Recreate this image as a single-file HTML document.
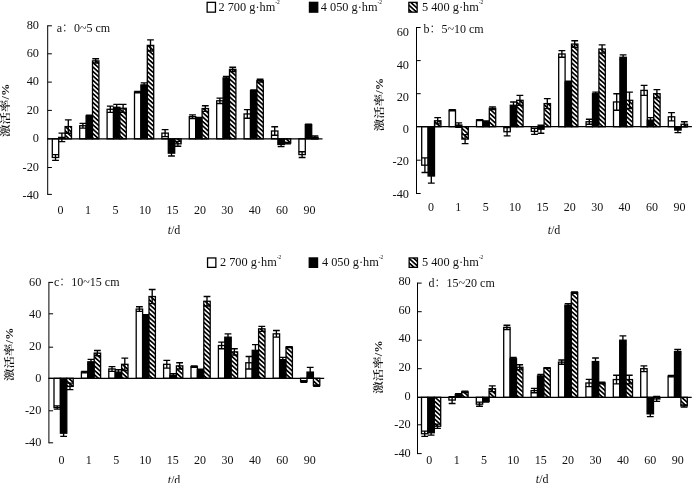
<!DOCTYPE html><html><head><meta charset="utf-8"><title>chart</title><style>html,body{margin:0;padding:0;background:#fff}svg{display:block}</style></head><body><svg width="700" height="483" viewBox="0 0 700 483" font-family="'Liberation Serif', 'Noto Serif CJK SC', serif" font-size="12" fill="#111">
<defs><pattern id="h" width="3.3" height="3.3" patternUnits="userSpaceOnUse" patternTransform="rotate(42)"><rect width="3.3" height="3.3" fill="#fff"/><rect width="3.3" height="1.7" fill="#000"/></pattern></defs>
<rect width="700" height="483" fill="#fff"/>
<rect x="207.15" y="2.35" width="8.30" height="9.80" fill="#fff" stroke="#000" stroke-width="1.3"/>
<text x="218.5" y="10.70" font-size="12.3">2 700 g·hm<tspan font-size="5.5" dy="-6.5">-2</tspan></text>
<rect x="309.45" y="2.35" width="8.30" height="9.80" fill="#000" stroke="#000" stroke-width="1.3"/>
<text x="320.8" y="10.70" font-size="12.3">4 050 g·hm<tspan font-size="5.5" dy="-6.5">-2</tspan></text>
<rect x="408.85" y="2.35" width="8.30" height="9.80" fill="url(#h)" stroke="#000" stroke-width="1.3"/>
<text x="422.0" y="10.70" font-size="12.3">5 400 g·hm<tspan font-size="5.5" dy="-6.5">-2</tspan></text>
<rect x="207.55" y="257.95" width="8.30" height="9.40" fill="#fff" stroke="#000" stroke-width="1.3"/>
<text x="220" y="265.80" font-size="12.3">2 700 g·hm<tspan font-size="5.5" dy="-6.5">-2</tspan></text>
<rect x="309.25" y="257.95" width="8.30" height="9.40" fill="#000" stroke="#000" stroke-width="1.3"/>
<text x="322" y="265.80" font-size="12.3">4 050 g·hm<tspan font-size="5.5" dy="-6.5">-2</tspan></text>
<rect x="409.15" y="257.95" width="8.30" height="9.40" fill="url(#h)" stroke="#000" stroke-width="1.3"/>
<text x="422" y="265.80" font-size="12.3">5 400 g·hm<tspan font-size="5.5" dy="-6.5">-2</tspan></text>
<rect x="52.30" y="138.80" width="6.40" height="18.66" fill="#fff" stroke="#000" stroke-width="1.3"/>
<path d="M55.50 154.59V160.32M52.10 154.59H58.90M52.10 160.32H58.90" stroke="#000" stroke-width="1.35" fill="none"/>
<rect x="58.70" y="137.38" width="6.40" height="1.42" fill="#000" stroke="#000" stroke-width="1.3"/>
<path d="M61.90 133.12V141.67M58.50 133.12H65.30M58.50 141.67H65.30" stroke="#000" stroke-width="1.35" fill="none"/>
<rect x="65.10" y="126.59" width="6.40" height="12.21" fill="url(#h)" stroke="#000" stroke-width="1.3"/>
<path d="M68.30 119.91V133.26M64.90 119.91H71.70M64.90 133.26H71.70" stroke="#000" stroke-width="1.35" fill="none"/>
<rect x="79.70" y="125.74" width="6.40" height="13.06" fill="#fff" stroke="#000" stroke-width="1.3"/>
<path d="M82.90 123.32V128.15M79.50 123.32H86.30M79.50 128.15H86.30" stroke="#000" stroke-width="1.35" fill="none"/>
<rect x="86.10" y="115.94" width="6.40" height="22.86" fill="#000" stroke="#000" stroke-width="1.3"/>
<path d="M89.30 115.23V116.65M85.90 115.23H92.70M85.90 116.65H92.70" stroke="#000" stroke-width="1.35" fill="none"/>
<rect x="92.50" y="60.88" width="6.40" height="77.93" fill="url(#h)" stroke="#000" stroke-width="1.3"/>
<path d="M95.70 58.75V63.00M92.30 58.75H99.10M92.30 63.00H99.10" stroke="#000" stroke-width="1.35" fill="none"/>
<rect x="107.10" y="109.27" width="6.40" height="29.53" fill="#fff" stroke="#000" stroke-width="1.3"/>
<path d="M110.30 106.16V112.39M106.90 106.16H113.70M106.90 112.39H113.70" stroke="#000" stroke-width="1.35" fill="none"/>
<rect x="113.50" y="107.29" width="6.40" height="31.51" fill="#000" stroke="#000" stroke-width="1.3"/>
<path d="M116.70 104.32V110.26M113.30 104.32H120.10M113.30 110.26H120.10" stroke="#000" stroke-width="1.35" fill="none"/>
<rect x="119.90" y="108.28" width="6.40" height="30.52" fill="url(#h)" stroke="#000" stroke-width="1.3"/>
<path d="M123.10 104.32V112.25M119.70 104.32H126.50M119.70 112.25H126.50" stroke="#000" stroke-width="1.35" fill="none"/>
<rect x="134.50" y="92.00" width="6.40" height="46.80" fill="#fff" stroke="#000" stroke-width="1.3"/>
<path d="M137.70 91.30V92.71M134.30 91.30H141.10M134.30 92.71H141.10" stroke="#000" stroke-width="1.35" fill="none"/>
<rect x="140.90" y="84.93" width="6.40" height="53.87" fill="#000" stroke="#000" stroke-width="1.3"/>
<path d="M144.10 82.81V87.05M140.70 82.81H147.50M140.70 87.05H147.50" stroke="#000" stroke-width="1.35" fill="none"/>
<rect x="147.30" y="45.40" width="6.40" height="93.40" fill="url(#h)" stroke="#000" stroke-width="1.3"/>
<path d="M150.50 39.80V51.00M147.10 39.80H153.90M147.10 51.00H153.90" stroke="#000" stroke-width="1.35" fill="none"/>
<rect x="161.90" y="133.12" width="6.40" height="5.68" fill="#fff" stroke="#000" stroke-width="1.3"/>
<path d="M165.10 129.57V136.67M161.70 129.57H168.50M161.70 136.67H168.50" stroke="#000" stroke-width="1.35" fill="none"/>
<rect x="168.30" y="138.80" width="6.40" height="14.35" fill="#000" stroke="#000" stroke-width="1.3"/>
<path d="M171.50 150.28V156.02M168.10 150.28H174.90M168.10 156.02H174.90" stroke="#000" stroke-width="1.35" fill="none"/>
<rect x="174.70" y="138.80" width="6.40" height="5.02" fill="url(#h)" stroke="#000" stroke-width="1.3"/>
<path d="M177.90 141.38V146.26M174.50 141.38H181.30M174.50 146.26H181.30" stroke="#000" stroke-width="1.35" fill="none"/>
<rect x="189.30" y="116.65" width="6.40" height="22.15" fill="#fff" stroke="#000" stroke-width="1.3"/>
<path d="M192.50 114.80V118.49M189.10 114.80H195.90M189.10 118.49H195.90" stroke="#000" stroke-width="1.35" fill="none"/>
<rect x="195.70" y="118.07" width="6.40" height="20.73" fill="#000" stroke="#000" stroke-width="1.3"/>
<path d="M198.90 117.36V118.78M195.50 117.36H202.30M195.50 118.78H202.30" stroke="#000" stroke-width="1.35" fill="none"/>
<rect x="202.10" y="108.56" width="6.40" height="30.24" fill="url(#h)" stroke="#000" stroke-width="1.3"/>
<path d="M205.30 105.73V111.39M201.90 105.73H208.70M201.90 111.39H208.70" stroke="#000" stroke-width="1.35" fill="none"/>
<rect x="216.70" y="100.78" width="6.40" height="38.02" fill="#fff" stroke="#000" stroke-width="1.3"/>
<path d="M219.90 98.09V103.47M216.50 98.09H223.30M216.50 103.47H223.30" stroke="#000" stroke-width="1.35" fill="none"/>
<rect x="223.10" y="77.85" width="6.40" height="60.95" fill="#000" stroke="#000" stroke-width="1.3"/>
<path d="M226.30 76.44V79.27M222.90 76.44H229.70M222.90 79.27H229.70" stroke="#000" stroke-width="1.35" fill="none"/>
<rect x="229.50" y="69.36" width="6.40" height="69.44" fill="url(#h)" stroke="#000" stroke-width="1.3"/>
<path d="M232.70 67.24V71.49M229.30 67.24H236.10M229.30 71.49H236.10" stroke="#000" stroke-width="1.35" fill="none"/>
<rect x="244.10" y="113.95" width="6.40" height="24.85" fill="#fff" stroke="#000" stroke-width="1.3"/>
<path d="M247.30 109.69V118.21M243.90 109.69H250.70M243.90 118.21H250.70" stroke="#000" stroke-width="1.35" fill="none"/>
<rect x="250.50" y="90.59" width="6.40" height="48.21" fill="#000" stroke="#000" stroke-width="1.3"/>
<path d="M253.70 89.88V91.30M250.30 89.88H257.10M250.30 91.30H257.10" stroke="#000" stroke-width="1.35" fill="none"/>
<rect x="256.90" y="80.68" width="6.40" height="58.12" fill="url(#h)" stroke="#000" stroke-width="1.3"/>
<path d="M260.10 79.27V82.10M256.70 79.27H263.50M256.70 82.10H263.50" stroke="#000" stroke-width="1.35" fill="none"/>
<rect x="271.50" y="130.99" width="6.40" height="7.81" fill="#fff" stroke="#000" stroke-width="1.3"/>
<path d="M274.70 126.73V135.25M271.30 126.73H278.10M271.30 135.25H278.10" stroke="#000" stroke-width="1.35" fill="none"/>
<rect x="277.90" y="138.80" width="6.40" height="5.74" fill="#000" stroke="#000" stroke-width="1.3"/>
<path d="M281.10 142.39V146.69M277.70 142.39H284.50M277.70 146.69H284.50" stroke="#000" stroke-width="1.35" fill="none"/>
<rect x="284.30" y="138.80" width="6.40" height="4.31" fill="url(#h)" stroke="#000" stroke-width="1.3"/>
<path d="M287.50 142.39V143.82M284.10 142.39H290.90M284.10 143.82H290.90" stroke="#000" stroke-width="1.35" fill="none"/>
<rect x="298.90" y="138.80" width="6.40" height="15.78" fill="#fff" stroke="#000" stroke-width="1.3"/>
<path d="M302.10 151.72V157.46M298.70 151.72H305.50M298.70 157.46H305.50" stroke="#000" stroke-width="1.35" fill="none"/>
<rect x="305.30" y="124.60" width="6.40" height="14.20" fill="#000" stroke="#000" stroke-width="1.3"/>
<path d="M308.50 124.17V125.03M305.10 124.17H311.90M305.10 125.03H311.90" stroke="#000" stroke-width="1.35" fill="none"/>
<rect x="311.70" y="137.38" width="6.40" height="1.42" fill="url(#h)" stroke="#000" stroke-width="1.3"/>
<path d="M314.90 135.96V138.80M311.50 135.96H318.30M311.50 138.80H318.30" stroke="#000" stroke-width="1.35" fill="none"/>
<path d="M47.7 25.3V194.9" stroke="#000" stroke-width="1" fill="none"/>
<path d="M47.2 138.80H322.5" stroke="#000" stroke-width="1.3" fill="none"/>
<path d="M47.7 25.80h4.2" stroke="#000" stroke-width="1"/>
<text x="39" y="28.50" text-anchor="end" font-size="12.3">80</text>
<path d="M47.7 53.80h4.2" stroke="#000" stroke-width="1"/>
<text x="39" y="56.90" text-anchor="end" font-size="12.3">60</text>
<path d="M47.7 82.10h4.2" stroke="#000" stroke-width="1"/>
<text x="39" y="85.30" text-anchor="end" font-size="12.3">40</text>
<path d="M47.7 110.40h4.2" stroke="#000" stroke-width="1"/>
<text x="39" y="113.70" text-anchor="end" font-size="12.3">20</text>
<path d="M47.7 138.80h4.2" stroke="#000" stroke-width="1"/>
<text x="39" y="142.10" text-anchor="end" font-size="12.3">0</text>
<path d="M47.7 167.50h4.2" stroke="#000" stroke-width="1"/>
<text x="39" y="170.50" text-anchor="end" font-size="12.3">-20</text>
<path d="M47.7 194.40h4.2" stroke="#000" stroke-width="1"/>
<text x="39" y="198.90" text-anchor="end" font-size="12.3">-40</text>
<text x="60.60" y="213.7" text-anchor="middle" font-size="12">0</text>
<text x="88.00" y="213.7" text-anchor="middle" font-size="12">1</text>
<text x="115.40" y="213.7" text-anchor="middle" font-size="12">5</text>
<text x="145.10" y="213.7" text-anchor="middle" font-size="12">10</text>
<text x="172.50" y="213.7" text-anchor="middle" font-size="12">15</text>
<text x="199.90" y="213.7" text-anchor="middle" font-size="12">20</text>
<text x="227.30" y="213.7" text-anchor="middle" font-size="12">30</text>
<text x="254.70" y="213.7" text-anchor="middle" font-size="12">40</text>
<text x="282.10" y="213.7" text-anchor="middle" font-size="12">60</text>
<text x="309.50" y="213.7" text-anchor="middle" font-size="12">90</text>
<text x="174" y="234" text-anchor="middle" font-size="12"><tspan font-style="italic">t</tspan>/d</text>
<text x="56.7" y="31.5" font-size="12">a：0~5 cm</text>
<text transform="translate(8.9,110.2) rotate(-90) scale(1,0.8)" text-anchor="middle" font-size="12.5" font-weight="600">激活率/%</text>
<rect x="421.70" y="126.70" width="6.40" height="38.49" fill="#fff" stroke="#000" stroke-width="1.3"/>
<path d="M424.90 157.85V172.52M421.50 157.85H428.30M421.50 172.52H428.30" stroke="#000" stroke-width="1.35" fill="none"/>
<rect x="428.10" y="126.70" width="6.40" height="49.32" fill="#000" stroke="#000" stroke-width="1.3"/>
<path d="M431.30 168.86V183.18M427.90 168.86H434.70M427.90 183.18H434.70" stroke="#000" stroke-width="1.35" fill="none"/>
<rect x="434.50" y="120.76" width="6.40" height="5.94" fill="url(#h)" stroke="#000" stroke-width="1.3"/>
<path d="M437.70 117.62V123.89M434.30 117.62H441.10M434.30 123.89H441.10" stroke="#000" stroke-width="1.35" fill="none"/>
<rect x="449.10" y="110.20" width="6.40" height="16.50" fill="#fff" stroke="#000" stroke-width="1.3"/>
<path d="M452.30 109.70V110.70M448.90 109.70H455.70M448.90 110.70H455.70" stroke="#000" stroke-width="1.35" fill="none"/>
<rect x="455.50" y="125.05" width="6.40" height="1.65" fill="#000" stroke="#000" stroke-width="1.3"/>
<path d="M458.70 122.91V127.20M455.30 122.91H462.10M455.30 127.20H462.10" stroke="#000" stroke-width="1.35" fill="none"/>
<rect x="461.90" y="126.70" width="6.40" height="12.39" fill="url(#h)" stroke="#000" stroke-width="1.3"/>
<path d="M465.10 134.57V143.62M461.70 134.57H468.50M461.70 143.62H468.50" stroke="#000" stroke-width="1.35" fill="none"/>
<rect x="476.50" y="120.10" width="6.40" height="6.60" fill="#fff" stroke="#000" stroke-width="1.3"/>
<path d="M479.70 119.61V120.59M476.30 119.61H483.10M476.30 120.59H483.10" stroke="#000" stroke-width="1.35" fill="none"/>
<rect x="482.90" y="121.75" width="6.40" height="4.95" fill="#000" stroke="#000" stroke-width="1.3"/>
<path d="M486.10 120.92V122.58M482.70 120.92H489.50M482.70 122.58H489.50" stroke="#000" stroke-width="1.35" fill="none"/>
<rect x="489.30" y="108.22" width="6.40" height="18.48" fill="url(#h)" stroke="#000" stroke-width="1.3"/>
<path d="M492.50 106.90V109.54M489.10 106.90H495.90M489.10 109.54H495.90" stroke="#000" stroke-width="1.35" fill="none"/>
<rect x="503.90" y="126.70" width="6.40" height="5.02" fill="#fff" stroke="#000" stroke-width="1.3"/>
<path d="M507.10 127.54V135.91M503.70 127.54H510.50M503.70 135.91H510.50" stroke="#000" stroke-width="1.35" fill="none"/>
<rect x="510.30" y="105.25" width="6.40" height="21.45" fill="#000" stroke="#000" stroke-width="1.3"/>
<path d="M513.50 101.95V108.55M510.10 101.95H516.90M510.10 108.55H516.90" stroke="#000" stroke-width="1.35" fill="none"/>
<rect x="516.70" y="100.30" width="6.40" height="26.40" fill="url(#h)" stroke="#000" stroke-width="1.3"/>
<path d="M519.90 95.35V105.25M516.50 95.35H523.30M516.50 105.25H523.30" stroke="#000" stroke-width="1.35" fill="none"/>
<rect x="531.30" y="126.70" width="6.40" height="4.69" fill="#fff" stroke="#000" stroke-width="1.3"/>
<path d="M534.50 128.38V134.41M531.10 128.38H537.90M531.10 134.41H537.90" stroke="#000" stroke-width="1.35" fill="none"/>
<rect x="537.70" y="126.70" width="6.40" height="2.51" fill="#000" stroke="#000" stroke-width="1.3"/>
<path d="M540.90 125.22V133.23M537.50 125.22H544.30M537.50 133.23H544.30" stroke="#000" stroke-width="1.35" fill="none"/>
<rect x="544.10" y="103.60" width="6.40" height="23.10" fill="url(#h)" stroke="#000" stroke-width="1.3"/>
<path d="M547.30 98.65V108.55M543.90 98.65H550.70M543.90 108.55H550.70" stroke="#000" stroke-width="1.35" fill="none"/>
<rect x="558.70" y="53.98" width="6.40" height="72.72" fill="#fff" stroke="#000" stroke-width="1.3"/>
<path d="M561.90 50.67V57.29M558.50 50.67H565.30M558.50 57.29H565.30" stroke="#000" stroke-width="1.35" fill="none"/>
<rect x="565.10" y="82.12" width="6.40" height="44.58" fill="#000" stroke="#000" stroke-width="1.3"/>
<path d="M568.30 81.29V82.94M564.90 81.29H571.70M564.90 82.94H571.70" stroke="#000" stroke-width="1.35" fill="none"/>
<rect x="571.50" y="44.05" width="6.40" height="82.65" fill="url(#h)" stroke="#000" stroke-width="1.3"/>
<path d="M574.70 40.74V47.36M571.30 40.74H578.10M571.30 47.36H578.10" stroke="#000" stroke-width="1.35" fill="none"/>
<rect x="586.10" y="121.75" width="6.40" height="4.95" fill="#fff" stroke="#000" stroke-width="1.3"/>
<path d="M589.30 119.28V124.23M585.90 119.28H592.70M585.90 124.23H592.70" stroke="#000" stroke-width="1.35" fill="none"/>
<rect x="592.50" y="93.70" width="6.40" height="33.00" fill="#000" stroke="#000" stroke-width="1.3"/>
<path d="M595.70 92.05V95.35M592.30 92.05H599.10M592.30 95.35H599.10" stroke="#000" stroke-width="1.35" fill="none"/>
<rect x="598.90" y="49.02" width="6.40" height="77.69" fill="url(#h)" stroke="#000" stroke-width="1.3"/>
<path d="M602.10 44.88V53.15M598.70 44.88H605.50M598.70 53.15H605.50" stroke="#000" stroke-width="1.35" fill="none"/>
<rect x="613.50" y="101.95" width="6.40" height="24.75" fill="#fff" stroke="#000" stroke-width="1.3"/>
<path d="M616.70 93.70V110.20M613.30 93.70H620.10M613.30 110.20H620.10" stroke="#000" stroke-width="1.35" fill="none"/>
<rect x="619.90" y="57.29" width="6.40" height="69.41" fill="#000" stroke="#000" stroke-width="1.3"/>
<path d="M623.10 54.81V59.77M619.70 54.81H626.50M619.70 59.77H626.50" stroke="#000" stroke-width="1.35" fill="none"/>
<rect x="626.30" y="100.30" width="6.40" height="26.40" fill="url(#h)" stroke="#000" stroke-width="1.3"/>
<path d="M629.50 92.05V108.55M626.10 92.05H632.90M626.10 108.55H632.90" stroke="#000" stroke-width="1.35" fill="none"/>
<rect x="640.90" y="90.39" width="6.40" height="36.31" fill="#fff" stroke="#000" stroke-width="1.3"/>
<path d="M644.10 85.42V95.35M640.70 85.42H647.50M640.70 95.35H647.50" stroke="#000" stroke-width="1.35" fill="none"/>
<rect x="647.30" y="120.10" width="6.40" height="6.60" fill="#000" stroke="#000" stroke-width="1.3"/>
<path d="M650.50 117.62V122.58M647.10 117.62H653.90M647.10 122.58H653.90" stroke="#000" stroke-width="1.35" fill="none"/>
<rect x="653.70" y="93.70" width="6.40" height="33.00" fill="url(#h)" stroke="#000" stroke-width="1.3"/>
<path d="M656.90 89.56V97.83M653.50 89.56H660.30M653.50 97.83H660.30" stroke="#000" stroke-width="1.35" fill="none"/>
<rect x="668.30" y="116.80" width="6.40" height="9.90" fill="#fff" stroke="#000" stroke-width="1.3"/>
<path d="M671.50 112.67V120.92M668.10 112.67H674.90M668.10 120.92H674.90" stroke="#000" stroke-width="1.35" fill="none"/>
<rect x="674.70" y="126.70" width="6.40" height="3.35" fill="#000" stroke="#000" stroke-width="1.3"/>
<path d="M677.90 127.54V132.56M674.50 127.54H681.30M674.50 132.56H681.30" stroke="#000" stroke-width="1.35" fill="none"/>
<rect x="681.10" y="124.23" width="6.40" height="2.47" fill="url(#h)" stroke="#000" stroke-width="1.3"/>
<path d="M684.30 121.75V126.70M680.90 121.75H687.70M680.90 126.70H687.70" stroke="#000" stroke-width="1.35" fill="none"/>
<path d="M416.5 27.0V194.0" stroke="#000" stroke-width="1" fill="none"/>
<path d="M416.0 126.70H691.9" stroke="#000" stroke-width="1.3" fill="none"/>
<path d="M416.5 27.50h4.2" stroke="#000" stroke-width="1"/>
<text x="409.0" y="36.20" text-anchor="end" font-size="12.3">60</text>
<path d="M416.5 60.60h4.2" stroke="#000" stroke-width="1"/>
<text x="409.0" y="68.50" text-anchor="end" font-size="12.3">40</text>
<path d="M416.5 93.70h4.2" stroke="#000" stroke-width="1"/>
<text x="409.0" y="100.80" text-anchor="end" font-size="12.3">20</text>
<path d="M416.5 126.70h4.2" stroke="#000" stroke-width="1"/>
<text x="409.0" y="133.10" text-anchor="end" font-size="12.3">0</text>
<path d="M416.5 160.20h4.2" stroke="#000" stroke-width="1"/>
<text x="409.0" y="165.40" text-anchor="end" font-size="12.3">-20</text>
<path d="M416.5 193.50h4.2" stroke="#000" stroke-width="1"/>
<text x="409.0" y="197.70" text-anchor="end" font-size="12.3">-40</text>
<text x="430.90" y="211.1" text-anchor="middle" font-size="12">0</text>
<text x="458.30" y="211.1" text-anchor="middle" font-size="12">1</text>
<text x="485.70" y="211.1" text-anchor="middle" font-size="12">5</text>
<text x="515.00" y="211.1" text-anchor="middle" font-size="12">10</text>
<text x="542.40" y="211.1" text-anchor="middle" font-size="12">15</text>
<text x="569.80" y="211.1" text-anchor="middle" font-size="12">20</text>
<text x="597.20" y="211.1" text-anchor="middle" font-size="12">30</text>
<text x="624.60" y="211.1" text-anchor="middle" font-size="12">40</text>
<text x="652.00" y="211.1" text-anchor="middle" font-size="12">60</text>
<text x="679.40" y="211.1" text-anchor="middle" font-size="12">90</text>
<text x="554" y="234" text-anchor="middle" font-size="12"><tspan font-style="italic">t</tspan>/d</text>
<text x="423.5" y="32.8" font-size="12">b：5~10 cm</text>
<text transform="translate(382.7,104.5) rotate(-90) scale(1,0.8)" text-anchor="middle" font-size="12.5" font-weight="600">激活率/%</text>
<rect x="54.00" y="378.30" width="6.40" height="29.25" fill="#fff" stroke="#000" stroke-width="1.3"/>
<path d="M57.20 405.93V409.18M53.80 405.93H60.60M53.80 409.18H60.60" stroke="#000" stroke-width="1.35" fill="none"/>
<rect x="60.40" y="378.30" width="6.40" height="54.90" fill="#000" stroke="#000" stroke-width="1.3"/>
<path d="M63.60 430.00V436.40M60.20 430.00H67.00M60.20 436.40H67.00" stroke="#000" stroke-width="1.35" fill="none"/>
<rect x="66.80" y="378.30" width="6.40" height="8.12" fill="url(#h)" stroke="#000" stroke-width="1.3"/>
<path d="M70.00 383.18V389.68M66.60 383.18H73.40M66.60 389.68H73.40" stroke="#000" stroke-width="1.35" fill="none"/>
<rect x="81.40" y="372.08" width="6.40" height="6.22" fill="#fff" stroke="#000" stroke-width="1.3"/>
<path d="M84.60 371.30V372.86M81.20 371.30H88.00M81.20 372.86H88.00" stroke="#000" stroke-width="1.35" fill="none"/>
<rect x="87.80" y="361.82" width="6.40" height="16.48" fill="#000" stroke="#000" stroke-width="1.3"/>
<path d="M91.00 359.33V364.31M87.60 359.33H94.40M87.60 364.31H94.40" stroke="#000" stroke-width="1.35" fill="none"/>
<rect x="94.20" y="353.11" width="6.40" height="25.19" fill="url(#h)" stroke="#000" stroke-width="1.3"/>
<path d="M97.40 350.47V355.75M94.00 350.47H100.80M94.00 355.75H100.80" stroke="#000" stroke-width="1.35" fill="none"/>
<rect x="108.80" y="368.97" width="6.40" height="9.33" fill="#fff" stroke="#000" stroke-width="1.3"/>
<path d="M112.00 366.64V371.30M108.60 366.64H115.40M108.60 371.30H115.40" stroke="#000" stroke-width="1.35" fill="none"/>
<rect x="115.20" y="372.08" width="6.40" height="6.22" fill="#000" stroke="#000" stroke-width="1.3"/>
<path d="M118.40 369.75V374.41M115.00 369.75H121.80M115.00 374.41H121.80" stroke="#000" stroke-width="1.35" fill="none"/>
<rect x="121.60" y="364.31" width="6.40" height="14.00" fill="url(#h)" stroke="#000" stroke-width="1.3"/>
<path d="M124.80 358.08V370.52M121.40 358.08H128.20M121.40 370.52H128.20" stroke="#000" stroke-width="1.35" fill="none"/>
<rect x="136.20" y="309.09" width="6.40" height="69.21" fill="#fff" stroke="#000" stroke-width="1.3"/>
<path d="M139.40 306.74V311.44M136.00 306.74H142.80M136.00 311.44H142.80" stroke="#000" stroke-width="1.35" fill="none"/>
<rect x="142.60" y="315.47" width="6.40" height="62.83" fill="#000" stroke="#000" stroke-width="1.3"/>
<path d="M145.80 314.63V316.31M142.40 314.63H149.20M142.40 316.31H149.20" stroke="#000" stroke-width="1.35" fill="none"/>
<rect x="149.00" y="296.53" width="6.40" height="81.77" fill="url(#h)" stroke="#000" stroke-width="1.3"/>
<path d="M152.20 289.46V303.60M148.80 289.46H155.60M148.80 303.60H155.60" stroke="#000" stroke-width="1.35" fill="none"/>
<rect x="163.60" y="364.31" width="6.40" height="14.00" fill="#fff" stroke="#000" stroke-width="1.3"/>
<path d="M166.80 360.42V368.19M163.40 360.42H170.20M163.40 368.19H170.20" stroke="#000" stroke-width="1.35" fill="none"/>
<rect x="170.00" y="375.19" width="6.40" height="3.11" fill="#000" stroke="#000" stroke-width="1.3"/>
<path d="M173.20 373.63V376.75M169.80 373.63H176.60M169.80 376.75H176.60" stroke="#000" stroke-width="1.35" fill="none"/>
<rect x="176.40" y="365.86" width="6.40" height="12.44" fill="url(#h)" stroke="#000" stroke-width="1.3"/>
<path d="M179.60 362.75V368.97M176.20 362.75H183.00M176.20 368.97H183.00" stroke="#000" stroke-width="1.35" fill="none"/>
<rect x="191.00" y="366.64" width="6.40" height="11.66" fill="#fff" stroke="#000" stroke-width="1.3"/>
<path d="M194.20 365.86V367.42M190.80 365.86H197.60M190.80 367.42H197.60" stroke="#000" stroke-width="1.35" fill="none"/>
<rect x="197.40" y="369.75" width="6.40" height="8.55" fill="#000" stroke="#000" stroke-width="1.3"/>
<path d="M200.60 369.28V370.21M197.20 369.28H204.00M197.20 370.21H204.00" stroke="#000" stroke-width="1.35" fill="none"/>
<rect x="203.80" y="301.24" width="6.40" height="77.06" fill="url(#h)" stroke="#000" stroke-width="1.3"/>
<path d="M207.00 296.53V305.95M203.60 296.53H210.40M203.60 305.95H210.40" stroke="#000" stroke-width="1.35" fill="none"/>
<rect x="218.40" y="345.53" width="6.40" height="32.77" fill="#fff" stroke="#000" stroke-width="1.3"/>
<path d="M221.60 342.19V348.75M218.20 342.19H225.00M218.20 348.75H225.00" stroke="#000" stroke-width="1.35" fill="none"/>
<rect x="224.80" y="337.18" width="6.40" height="41.12" fill="#000" stroke="#000" stroke-width="1.3"/>
<path d="M228.00 333.84V340.52M224.60 333.84H231.40M224.60 340.52H231.40" stroke="#000" stroke-width="1.35" fill="none"/>
<rect x="231.20" y="351.87" width="6.40" height="26.44" fill="url(#h)" stroke="#000" stroke-width="1.3"/>
<path d="M234.40 348.75V354.98M231.00 348.75H237.80M231.00 354.98H237.80" stroke="#000" stroke-width="1.35" fill="none"/>
<rect x="245.80" y="362.75" width="6.40" height="15.55" fill="#fff" stroke="#000" stroke-width="1.3"/>
<path d="M249.00 356.53V368.97M245.60 356.53H252.40M245.60 368.97H252.40" stroke="#000" stroke-width="1.35" fill="none"/>
<rect x="252.20" y="350.31" width="6.40" height="27.99" fill="#000" stroke="#000" stroke-width="1.3"/>
<path d="M255.40 344.69V355.75M252.00 344.69H258.80M252.00 355.75H258.80" stroke="#000" stroke-width="1.35" fill="none"/>
<rect x="258.60" y="328.83" width="6.40" height="49.47" fill="url(#h)" stroke="#000" stroke-width="1.3"/>
<path d="M261.80 326.32V331.33M258.40 326.32H265.20M258.40 331.33H265.20" stroke="#000" stroke-width="1.35" fill="none"/>
<rect x="273.20" y="333.84" width="6.40" height="44.46" fill="#fff" stroke="#000" stroke-width="1.3"/>
<path d="M276.40 330.50V337.18M273.00 330.50H279.80M273.00 337.18H279.80" stroke="#000" stroke-width="1.35" fill="none"/>
<rect x="279.60" y="359.64" width="6.40" height="18.66" fill="#000" stroke="#000" stroke-width="1.3"/>
<path d="M282.80 357.31V361.97M279.40 357.31H286.20M279.40 361.97H286.20" stroke="#000" stroke-width="1.35" fill="none"/>
<rect x="286.00" y="347.20" width="6.40" height="31.10" fill="url(#h)" stroke="#000" stroke-width="1.3"/>
<path d="M289.20 346.70V347.67M285.80 346.70H292.60M285.80 347.67H292.60" stroke="#000" stroke-width="1.35" fill="none"/>
<rect x="300.60" y="378.30" width="6.40" height="3.25" fill="#fff" stroke="#000" stroke-width="1.3"/>
<path d="M303.80 380.74V382.36M300.40 380.74H307.20M300.40 382.36H307.20" stroke="#000" stroke-width="1.35" fill="none"/>
<rect x="307.00" y="372.08" width="6.40" height="6.22" fill="#000" stroke="#000" stroke-width="1.3"/>
<path d="M310.20 367.42V376.75M306.80 367.42H313.60M306.80 376.75H313.60" stroke="#000" stroke-width="1.35" fill="none"/>
<rect x="313.40" y="378.30" width="6.40" height="7.31" fill="url(#h)" stroke="#000" stroke-width="1.3"/>
<path d="M316.60 384.80V386.43M313.20 384.80H320.00M313.20 386.43H320.00" stroke="#000" stroke-width="1.35" fill="none"/>
<path d="M48.9 281.9V443.3" stroke="#000" stroke-width="1" fill="none"/>
<path d="M48.4 378.30H324.2" stroke="#000" stroke-width="1.3" fill="none"/>
<path d="M48.9 282.40h4.2" stroke="#000" stroke-width="1"/>
<text x="41.3" y="286.40" text-anchor="end" font-size="12.3">60</text>
<path d="M48.9 313.80h4.2" stroke="#000" stroke-width="1"/>
<text x="41.3" y="318.40" text-anchor="end" font-size="12.3">40</text>
<path d="M48.9 347.20h4.2" stroke="#000" stroke-width="1"/>
<text x="41.3" y="350.40" text-anchor="end" font-size="12.3">20</text>
<path d="M48.9 378.30h4.2" stroke="#000" stroke-width="1"/>
<text x="41.3" y="382.40" text-anchor="end" font-size="12.3">0</text>
<path d="M48.9 410.80h4.2" stroke="#000" stroke-width="1"/>
<text x="41.3" y="414.40" text-anchor="end" font-size="12.3">-20</text>
<path d="M48.9 442.80h4.2" stroke="#000" stroke-width="1"/>
<text x="41.3" y="446.40" text-anchor="end" font-size="12.3">-40</text>
<text x="61.40" y="464.3" text-anchor="middle" font-size="12">0</text>
<text x="88.80" y="464.3" text-anchor="middle" font-size="12">1</text>
<text x="116.20" y="464.3" text-anchor="middle" font-size="12">5</text>
<text x="145.30" y="464.3" text-anchor="middle" font-size="12">10</text>
<text x="172.70" y="464.3" text-anchor="middle" font-size="12">15</text>
<text x="200.10" y="464.3" text-anchor="middle" font-size="12">20</text>
<text x="227.50" y="464.3" text-anchor="middle" font-size="12">30</text>
<text x="254.90" y="464.3" text-anchor="middle" font-size="12">40</text>
<text x="282.30" y="464.3" text-anchor="middle" font-size="12">60</text>
<text x="309.70" y="464.3" text-anchor="middle" font-size="12">90</text>
<text x="174" y="483.5" text-anchor="middle" font-size="12"><tspan font-style="italic">t</tspan>/d</text>
<text x="54" y="286.1" font-size="12">c：10~15 cm</text>
<text transform="translate(12.899999999999999,354.3) rotate(-90) scale(1,0.8)" text-anchor="middle" font-size="12.5" font-weight="600">激活率/%</text>
<rect x="421.50" y="397.30" width="6.40" height="36.43" fill="#fff" stroke="#000" stroke-width="1.3"/>
<path d="M424.70 431.14V436.32M421.30 431.14H428.10M421.30 436.32H428.10" stroke="#000" stroke-width="1.35" fill="none"/>
<rect x="427.90" y="397.30" width="6.40" height="35.42" fill="#000" stroke="#000" stroke-width="1.3"/>
<path d="M431.10 430.27V435.17M427.70 430.27H434.50M427.70 435.17H434.50" stroke="#000" stroke-width="1.35" fill="none"/>
<rect x="434.30" y="397.30" width="6.40" height="28.94" fill="url(#h)" stroke="#000" stroke-width="1.3"/>
<path d="M437.50 424.11V428.40M434.10 424.11H440.90M434.10 428.40H440.90" stroke="#000" stroke-width="1.35" fill="none"/>
<rect x="448.90" y="397.30" width="6.40" height="2.75" fill="#fff" stroke="#000" stroke-width="1.3"/>
<path d="M452.10 396.59V403.49M448.70 396.59H455.50M448.70 403.49H455.50" stroke="#000" stroke-width="1.35" fill="none"/>
<rect x="455.30" y="394.44" width="6.40" height="2.86" fill="#000" stroke="#000" stroke-width="1.3"/>
<path d="M458.50 393.73V395.16M455.10 393.73H461.90M455.10 395.16H461.90" stroke="#000" stroke-width="1.35" fill="none"/>
<rect x="461.70" y="391.87" width="6.40" height="5.43" fill="url(#h)" stroke="#000" stroke-width="1.3"/>
<path d="M464.90 391.15V392.58M461.50 391.15H468.30M461.50 392.58H468.30" stroke="#000" stroke-width="1.35" fill="none"/>
<rect x="476.30" y="397.30" width="6.40" height="6.88" fill="#fff" stroke="#000" stroke-width="1.3"/>
<path d="M479.50 402.11V406.24M476.10 402.11H482.90M476.10 406.24H482.90" stroke="#000" stroke-width="1.35" fill="none"/>
<rect x="482.70" y="397.30" width="6.40" height="4.12" fill="#000" stroke="#000" stroke-width="1.3"/>
<path d="M485.90 400.74V402.11M482.50 400.74H489.30M482.50 402.11H489.30" stroke="#000" stroke-width="1.35" fill="none"/>
<rect x="489.10" y="388.72" width="6.40" height="8.58" fill="url(#h)" stroke="#000" stroke-width="1.3"/>
<path d="M492.30 385.86V391.58M488.90 385.86H495.70M488.90 391.58H495.70" stroke="#000" stroke-width="1.35" fill="none"/>
<rect x="503.70" y="327.38" width="6.40" height="69.93" fill="#fff" stroke="#000" stroke-width="1.3"/>
<path d="M506.90 325.24V329.51M503.50 325.24H510.30M503.50 329.51H510.30" stroke="#000" stroke-width="1.35" fill="none"/>
<rect x="510.10" y="358.72" width="6.40" height="38.58" fill="#000" stroke="#000" stroke-width="1.3"/>
<path d="M513.30 357.30V360.15M509.90 357.30H516.70M509.90 360.15H516.70" stroke="#000" stroke-width="1.35" fill="none"/>
<rect x="516.50" y="367.27" width="6.40" height="30.03" fill="url(#h)" stroke="#000" stroke-width="1.3"/>
<path d="M519.70 364.71V369.84M516.30 364.71H523.10M516.30 369.84H523.10" stroke="#000" stroke-width="1.35" fill="none"/>
<rect x="531.10" y="390.58" width="6.40" height="6.72" fill="#fff" stroke="#000" stroke-width="1.3"/>
<path d="M534.30 388.43V392.72M530.90 388.43H537.70M530.90 392.72H537.70" stroke="#000" stroke-width="1.35" fill="none"/>
<rect x="537.50" y="375.85" width="6.40" height="21.45" fill="#000" stroke="#000" stroke-width="1.3"/>
<path d="M540.70 374.42V377.28M537.30 374.42H544.10M537.30 377.28H544.10" stroke="#000" stroke-width="1.35" fill="none"/>
<rect x="543.90" y="367.99" width="6.40" height="29.31" fill="url(#h)" stroke="#000" stroke-width="1.3"/>
<path d="M547.10 367.56V368.41M543.70 367.56H550.50M543.70 368.41H550.50" stroke="#000" stroke-width="1.35" fill="none"/>
<rect x="558.50" y="362.14" width="6.40" height="35.16" fill="#fff" stroke="#000" stroke-width="1.3"/>
<path d="M561.70 360.01V364.28M558.30 360.01H565.10M558.30 364.28H565.10" stroke="#000" stroke-width="1.35" fill="none"/>
<rect x="564.90" y="305.12" width="6.40" height="92.18" fill="#000" stroke="#000" stroke-width="1.3"/>
<path d="M568.10 303.69V306.55M564.70 303.69H571.50M564.70 306.55H571.50" stroke="#000" stroke-width="1.35" fill="none"/>
<rect x="571.30" y="292.54" width="6.40" height="104.76" fill="url(#h)" stroke="#000" stroke-width="1.3"/>
<path d="M574.50 291.82V293.25M571.10 291.82H577.90M571.10 293.25H577.90" stroke="#000" stroke-width="1.35" fill="none"/>
<rect x="585.90" y="383.00" width="6.40" height="14.30" fill="#fff" stroke="#000" stroke-width="1.3"/>
<path d="M589.10 379.43V386.57M585.70 379.43H592.50M585.70 386.57H592.50" stroke="#000" stroke-width="1.35" fill="none"/>
<rect x="592.30" y="361.57" width="6.40" height="35.73" fill="#000" stroke="#000" stroke-width="1.3"/>
<path d="M595.50 358.01V365.14M592.10 358.01H598.90M592.10 365.14H598.90" stroke="#000" stroke-width="1.35" fill="none"/>
<rect x="598.70" y="383.00" width="6.40" height="14.30" fill="url(#h)" stroke="#000" stroke-width="1.3"/>
<path d="M601.90 382.29V383.71M598.50 382.29H605.30M598.50 383.71H605.30" stroke="#000" stroke-width="1.35" fill="none"/>
<rect x="613.30" y="379.57" width="6.40" height="17.73" fill="#fff" stroke="#000" stroke-width="1.3"/>
<path d="M616.50 375.28V383.86M613.10 375.28H619.90M613.10 383.86H619.90" stroke="#000" stroke-width="1.35" fill="none"/>
<rect x="619.70" y="340.20" width="6.40" height="57.10" fill="#000" stroke="#000" stroke-width="1.3"/>
<path d="M622.90 335.93V344.47M619.50 335.93H626.30M619.50 344.47H626.30" stroke="#000" stroke-width="1.35" fill="none"/>
<rect x="626.10" y="379.57" width="6.40" height="17.73" fill="url(#h)" stroke="#000" stroke-width="1.3"/>
<path d="M629.30 375.28V383.86M625.90 375.28H632.70M625.90 383.86H632.70" stroke="#000" stroke-width="1.35" fill="none"/>
<rect x="640.70" y="368.70" width="6.40" height="28.60" fill="#fff" stroke="#000" stroke-width="1.3"/>
<path d="M643.90 365.85V371.56M640.50 365.85H647.30M640.50 371.56H647.30" stroke="#000" stroke-width="1.35" fill="none"/>
<rect x="647.10" y="397.30" width="6.40" height="16.50" fill="#000" stroke="#000" stroke-width="1.3"/>
<path d="M650.30 411.05V416.55M646.90 411.05H653.70M646.90 416.55H653.70" stroke="#000" stroke-width="1.35" fill="none"/>
<rect x="653.50" y="397.30" width="6.40" height="1.65" fill="url(#h)" stroke="#000" stroke-width="1.3"/>
<path d="M656.70 396.44V401.43M653.30 396.44H660.10M653.30 401.43H660.10" stroke="#000" stroke-width="1.35" fill="none"/>
<rect x="668.10" y="376.14" width="6.40" height="21.16" fill="#fff" stroke="#000" stroke-width="1.3"/>
<path d="M671.30 375.42V376.85M667.90 375.42H674.70M667.90 376.85H674.70" stroke="#000" stroke-width="1.35" fill="none"/>
<rect x="674.50" y="351.60" width="6.40" height="45.70" fill="#000" stroke="#000" stroke-width="1.3"/>
<path d="M677.70 349.46V353.74M674.30 349.46H681.10M674.30 353.74H681.10" stroke="#000" stroke-width="1.35" fill="none"/>
<rect x="680.90" y="397.30" width="6.40" height="8.66" fill="url(#h)" stroke="#000" stroke-width="1.3"/>
<path d="M684.10 404.86V407.06M680.70 404.86H687.50M680.70 407.06H687.50" stroke="#000" stroke-width="1.35" fill="none"/>
<path d="M417.5 282.6V454.1" stroke="#000" stroke-width="1" fill="none"/>
<path d="M417.0 397.30H691.6999999999999" stroke="#000" stroke-width="1.3" fill="none"/>
<path d="M417.5 283.10h4.2" stroke="#000" stroke-width="1"/>
<text x="410.7" y="285.30" text-anchor="end" font-size="12.3">80</text>
<path d="M417.5 311.70h4.2" stroke="#000" stroke-width="1"/>
<text x="410.7" y="313.85" text-anchor="end" font-size="12.3">60</text>
<path d="M417.5 340.20h4.2" stroke="#000" stroke-width="1"/>
<text x="410.7" y="342.40" text-anchor="end" font-size="12.3">40</text>
<path d="M417.5 368.70h4.2" stroke="#000" stroke-width="1"/>
<text x="410.7" y="370.95" text-anchor="end" font-size="12.3">20</text>
<path d="M417.5 397.30h4.2" stroke="#000" stroke-width="1"/>
<text x="410.7" y="399.50" text-anchor="end" font-size="12.3">0</text>
<path d="M417.5 424.80h4.2" stroke="#000" stroke-width="1"/>
<text x="410.7" y="428.05" text-anchor="end" font-size="12.3">-20</text>
<path d="M417.5 453.60h4.2" stroke="#000" stroke-width="1"/>
<text x="410.7" y="456.60" text-anchor="end" font-size="12.3">-40</text>
<text x="429.30" y="464.3" text-anchor="middle" font-size="12">0</text>
<text x="456.70" y="464.3" text-anchor="middle" font-size="12">1</text>
<text x="484.10" y="464.3" text-anchor="middle" font-size="12">5</text>
<text x="513.30" y="464.3" text-anchor="middle" font-size="12">10</text>
<text x="540.70" y="464.3" text-anchor="middle" font-size="12">15</text>
<text x="568.10" y="464.3" text-anchor="middle" font-size="12">20</text>
<text x="595.50" y="464.3" text-anchor="middle" font-size="12">30</text>
<text x="622.90" y="464.3" text-anchor="middle" font-size="12">40</text>
<text x="650.30" y="464.3" text-anchor="middle" font-size="12">60</text>
<text x="677.70" y="464.3" text-anchor="middle" font-size="12">90</text>
<text x="542.2" y="483.3" text-anchor="middle" font-size="12"><tspan font-style="italic">t</tspan>/d</text>
<text x="428.6" y="287.1" font-size="12">d：15~20 cm</text>
<text transform="translate(382.3,367) rotate(-90) scale(1,0.8)" text-anchor="middle" font-size="12.5" font-weight="600">激活率/%</text>
</svg></body></html>
